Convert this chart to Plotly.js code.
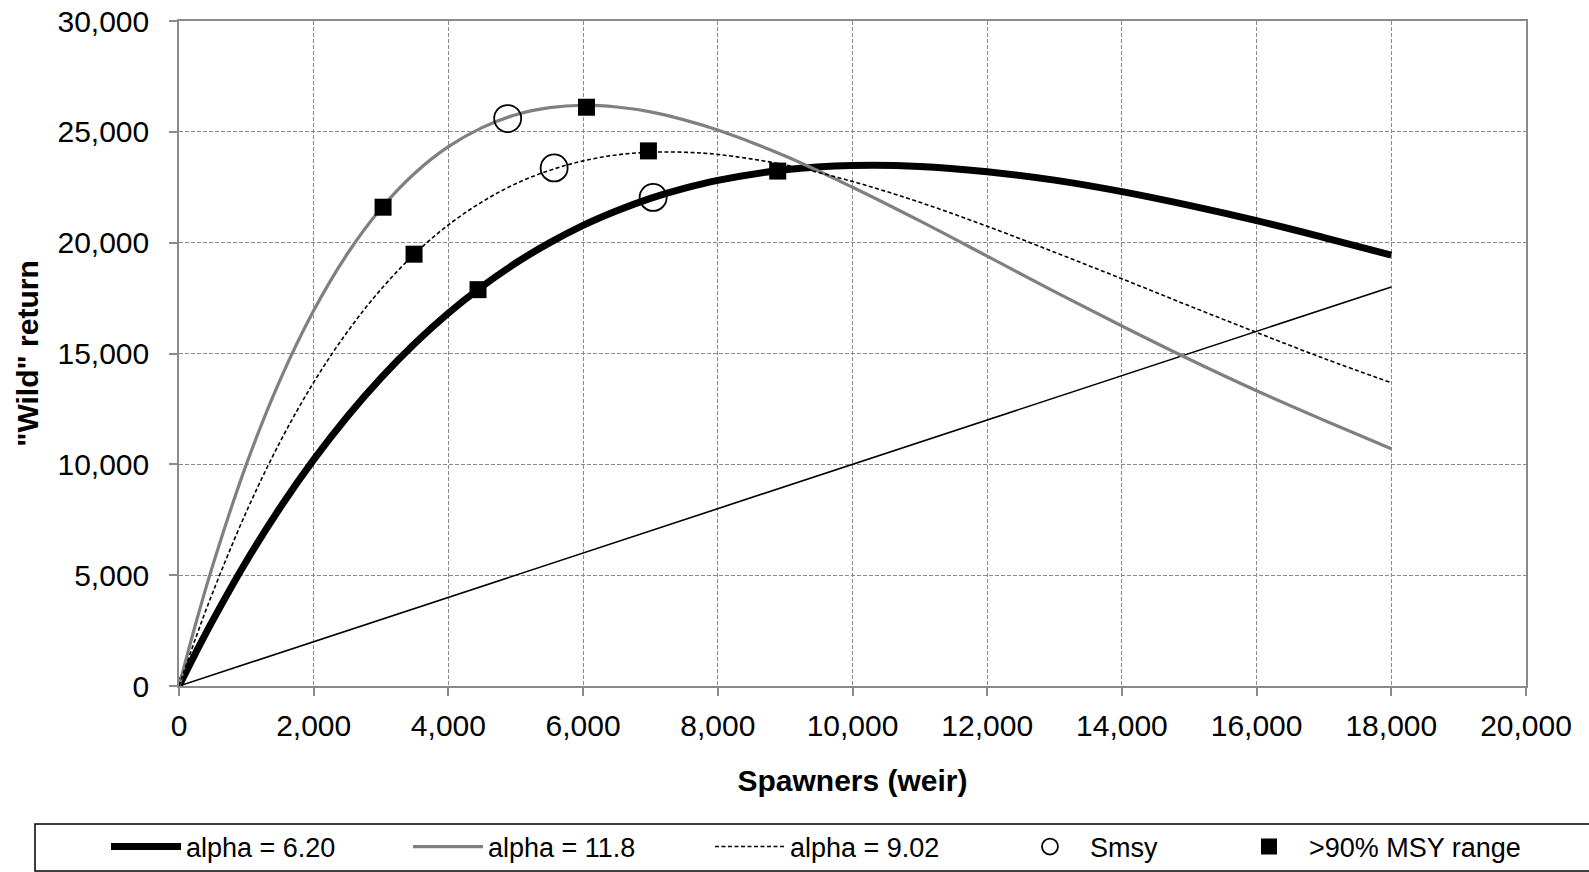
<!DOCTYPE html>
<html>
<head>
<meta charset="utf-8">
<script src="https://cdn.plot.ly/plotly-3.0.1.min.js"></script>
<style>
  html, body { margin: 0; padding: 0; background: #ffffff; }
  #chart { width: 1589px; height: 872px; }
</style>
</head>
<body>
<div id="chart"></div>
<script>
// Spawners (weir) at which the curves were read
const spawners = [0, 250, 500, 1000, 1500, 2000, 2500, 3000, 3500, 4000, 4500, 5000, 5500, 6000,
  6500, 7000, 7500, 8000, 9000, 10000, 11000, 12000, 13000, 14000, 15000, 16000, 17000, 18000];

// "Wild" return
const returnAlpha620 = [0, 1510, 2950, 5630, 8040, 10210, 12160, 13900, 15450, 16820, 18020, 19080, 19990, 20780,
  21440, 22000, 22450, 22810, 23290, 23480, 23440, 23200, 22820, 22300, 21680, 20990, 20230, 19440];
const returnAlpha118 = [0, 2830, 5430, 10000, 13800, 16940, 19500, 21540, 23130, 24330, 25190, 25770, 26090, 26200,
  26120, 25900, 25540, 25080, 23910, 22500, 20980, 19390, 17790, 16240, 14740, 13320, 11990, 10700];
const returnAlpha902 = [0, 2180, 4210, 7860, 11010, 13700, 15980, 17900, 19500, 20800, 21840, 22660, 23260, 23690,
  23960, 24080, 24080, 23980, 23510, 22760, 21820, 20740, 19570, 18370, 17150, 15950, 14780, 13680];

// Replacement line (return = spawners)
const replacementX = [0, 18000];
const replacementY = [0, 18000];

// Smsy points
const smsyX = [4880, 5570, 7040];
const smsyY = [25600, 23370, 22040];

// >90% MSY range end points
const msyRangeX = [3030, 3490, 4440, 6050, 6970, 8890];
const msyRangeY = [21600, 19480, 17880, 26110, 24140, 23230];

const xTicks = [0, 2000, 4000, 6000, 8000, 10000, 12000, 14000, 16000, 18000, 20000];
const yTicks = [0, 5000, 10000, 15000, 20000, 25000, 30000];

const seriesNames = ['alpha = 6.20', 'alpha = 11.8', 'alpha = 9.02', 'Smsy', '>90% MSY range'];

const FONT = 'Liberation Sans, Arial, sans-serif';
const GRID = '#8a8a8a';

const traces = [
  {
    x: replacementX, y: replacementY, type: 'scatter', mode: 'lines',
    line: { color: '#000000', width: 1.6 }, showlegend: false, hoverinfo: 'skip'
  },
  {
    x: spawners, y: returnAlpha620, type: 'scatter', mode: 'lines', name: seriesNames[0],
    line: { color: '#000000', width: 7, shape: 'spline' }, legend: 'legend'
  },
  {
    x: spawners, y: returnAlpha118, type: 'scatter', mode: 'lines', name: seriesNames[1],
    line: { color: '#808080', width: 3.2, shape: 'spline' }, legend: 'legend'
  },
  {
    x: spawners, y: returnAlpha902, type: 'scatter', mode: 'lines', name: seriesNames[2],
    line: { color: '#000000', width: 1.6, dash: '4px,2.5px', shape: 'spline' }, legend: 'legend'
  },
  {
    x: smsyX, y: smsyY, type: 'scatter', mode: 'markers', name: seriesNames[3],
    marker: { symbol: 'circle-open', size: 27, color: '#000000', line: { width: 1.8, color: '#000000' } },
    legend: 'legend2'
  },
  {
    x: msyRangeX, y: msyRangeY, type: 'scatter', mode: 'markers', name: seriesNames[4],
    marker: { symbol: 'square', size: 17, color: '#000000' }, legend: 'legend3'
  }
];

const axisCommon = {
  showline: true, linecolor: GRID, linewidth: 1.5, mirror: true,
  showgrid: true, gridcolor: GRID, gridwidth: 1.2, griddash: '4px,2px',
  zeroline: false,
  ticks: 'outside', ticklen: 8, tickcolor: GRID, tickwidth: 1.5,
  tickfont: { family: FONT, size: 30, color: '#000000' },
  tickformat: ',d'
};

const legendCommon = {
  orientation: 'h', xanchor: 'left', y: -0.2421, yanchor: 'middle',
  font: { family: FONT, size: 27, color: '#000000' },
  itemwidth: 70, bgcolor: 'rgba(0,0,0,0)', borderwidth: 0,
  traceorder: 'normal', itemclick: false, itemdoubleclick: false
};

const layout = {
  width: 1589, height: 872,
  paper_bgcolor: '#ffffff', plot_bgcolor: '#ffffff',
  margin: { l: 179, r: 63, t: 21, b: 186, autoexpand: false },
  font: { family: FONT, color: '#000000' },
  xaxis: Object.assign({}, axisCommon, {
    range: [0, 20000], tickvals: xTicks, ticklabelstandoff: 4,
    title: { text: '<b>Spawners (weir)</b>', font: { family: FONT, size: 30, color: '#000000' }, standoff: 29 }
  }),
  yaxis: Object.assign({}, axisCommon, {
    range: [0, 30000], tickvals: yTicks, ticklabelstandoff: 14,
    title: { text: '<b>"Wild" return</b>', font: { family: FONT, size: 30, color: '#000000' }, standoff: 10 }
  }),
  showlegend: true,
  legend: Object.assign({}, legendCommon, { x: -0.0542, entrywidth: 217 }),
  legend2: Object.assign({}, legendCommon, { x: 0.6169 }),
  legend3: Object.assign({}, legendCommon, { x: 0.7795 }),
  shapes: [
    {
      type: 'rect', xref: 'paper', yref: 'paper',
      x0: -0.1069, x1: 1.06, y0: -0.2782, y1: -0.2075,
      line: { color: '#000000', width: 1.5 }, fillcolor: 'rgba(0,0,0,0)', layer: 'below'
    }
  ]
};

Plotly.newPlot('chart', traces, layout, { displayModeBar: false, responsive: false });
</script>
</body>
</html>
